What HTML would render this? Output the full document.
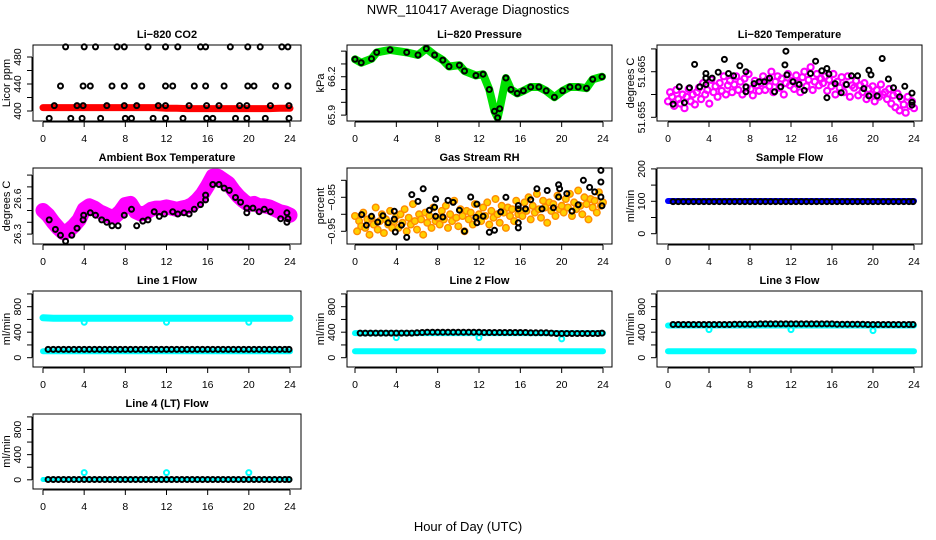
<!DOCTYPE html>
<html><head><meta charset="utf-8"><title>NWR_110417 Average Diagnostics</title>
<style>
html,body{margin:0;padding:0;background:#fff;}
svg{display:block;font-family:"Liberation Sans",Arial,sans-serif;}
</style></head>
<body>
<svg id="chart" width="936" height="540" viewBox="0 0 936 540" xmlns="http://www.w3.org/2000/svg">
<rect width="936" height="540" fill="#fff"/>
<text x="468" y="14" text-anchor="middle" font-size="13">NWR_110417  Average Diagnostics</text>
<text x="468" y="531" text-anchor="middle" font-size="13">Hour of Day (UTC)</text>
</svg>
<script>
// ---------- data ----------
const xTickLabels = [0,4,8,12,16,20,24];

// CO2
const co2RedHours = [0,1,2,3,4,5,6,7,8,9,10,11,12,13,14,15,16,17,18,19,20,21,22,23,24];
const co2RedVals = [405,405,405,405,405,405,405,405,405,405,405,405,404,404,403.5,403.5,403.5,403.5,403.5,403.5,403.5,403.5,403.5,404,404];
const co2BlackHours = [2.2,4.0,5.1,7.2,7.9,10.2,11.9,13.1,15.3,15.8,18.2,19.9,21.1,23.2,23.8,
 1.7,3.9,4.6,6.7,7.9,9.6,11.9,12.6,14.7,15.8,17.6,19.9,20.5,22.6,23.8,
 1.1,3.3,3.9,6.2,7.9,9.1,11.2,11.9,14.2,15.9,17.1,19.1,19.8,22.1,23.9,
 0.6,2.7,3.8,5.6,8.0,8.6,10.7,11.9,13.6,15.9,16.5,18.7,19.8,21.6,23.9];
const co2BlackVals = [495,495,495,495,495,495,495,495,495,495,495,495,495,495,495,
 437,437,437,437,437,437,437,437,437,437,437,437,437,437,437,
 408,408,408,408,408,408,408,408,408,408,408,408,408,408,408,
 389,389,389,389,389,389,389,389,389,389,389,389,389,389,389];

// Pressure
const presHours = [0,0.6,1.6,2.1,3.4,5.0,6.1,6.9,7.7,8.5,9.1,10.1,10.6,11.7,12.4,13.0,13.5,13.8,14.0,14.6,15.1,15.7,16.3,17.0,17.8,18.5,19.3,20.1,20.8,21.6,22.4,23.0,23.9];
const presVals = [66.336,66.31,66.34,66.39,66.41,66.39,66.37,66.42,66.37,66.33,66.28,66.29,66.245,66.21,66.22,66.10,65.93,65.88,65.95,66.19,66.10,66.07,66.09,66.12,66.12,66.09,66.04,66.09,66.12,66.12,66.11,66.18,66.20];

// Li-820 temperature
const tempMagenta = [51.6585,51.6605,51.6595,51.6575,51.6610,51.6590,51.6580,51.6600,51.6570,51.6595,51.6612,51.6585,51.6600,51.6578,51.6605,
51.6615,51.6590,51.6625,51.6600,51.6610,51.6580,51.6632,51.6605,51.6618,51.6595,51.6625,51.6608,51.6640,51.6600,51.6620,
51.6630,51.6605,51.6622,51.6640,51.6610,51.6628,51.6600,51.6635,51.6615,51.6645,51.6612,51.6598,51.6630,51.6620,51.6608,
51.6625,51.6640,51.6610,51.6632,51.6618,51.6650,51.6605,51.6628,51.6640,51.6615,51.6635,51.6600,51.6625,51.6645,51.6620,
51.6630,51.6612,51.6642,51.6625,51.6605,51.6638,51.6650,51.6618,51.6632,51.6660,51.6610,51.6628,51.6645,51.6620,51.6635,
51.6625,51.6640,51.6608,51.6632,51.6618,51.6645,51.6600,51.6628,51.6615,51.6638,51.6605,51.6622,51.6640,51.6595,51.6620,
51.6615,51.6630,51.6598,51.6620,51.6605,51.6625,51.6590,51.6612,51.6600,51.6618,51.6585,51.6610,51.6595,51.6622,51.6600,
51.6605,51.6590,51.6612,51.6580,51.6598,51.6572,51.6602,51.6565,51.6590,51.6578,51.6560,51.6595,51.6575,51.6585,51.6570];
const tempBlackHours = [0.5,1.1,1.6,2.1,3.1,2.6,3.7,3.7,3.7,4.3,4.9,5.5,5.9,6.4,7.0,7.6,7.6,7.6,8.4,8.9,9.4,9.9,10.4,11.0,11.4,11.6,11.5,12.2,12.8,13.3,13.9,14.4,15.0,15.5,15.5,15.7,16.3,16.9,17.4,17.9,18.5,19.1,19.6,19.6,19.8,20.4,20.9,21.5,22.0,22.6,23.1,23.8,23.8,23.8];
const tempBlackVals = [51.6579,51.6617,51.6582,51.6615,51.6617,51.6666,51.6646,51.6636,51.6622,51.6636,51.6649,51.6677,51.6646,51.6641,51.6663,51.6617,51.6650,51.6606,51.6624,51.6628,51.6628,51.6636,51.6606,51.6617,51.6665,51.6643,51.6695,51.6628,51.6622,51.6609,51.6646,51.6673,51.6652,51.6657,51.6593,51.6645,51.6624,51.6604,51.6622,51.6641,51.6641,51.6613,51.6597,51.6653,51.6643,51.6597,51.6679,51.6634,51.6615,51.6595,51.6618,51.6603,51.6583,51.6577];

// Ambient box temperature
const ambMagentaHours = [0,0.5,1,1.5,2,2.5,3,3.5,4,4.5,5,5.5,6,6.5,7,7.5,8,8.5,9,9.5,10,10.5,11,11.5,12,12.5,13,13.5,14,14.5,15,15.5,16,16.5,17,17.5,18,18.5,19,19.5,20,20.5,21,21.5,22,22.5,23,23.5,24];
const ambMagentaVals = [26.50,26.46,26.40,26.35,26.31,26.33,26.37,26.42,26.51,26.54,26.52,26.49,26.47,26.45,26.45,26.49,26.55,26.56,26.49,26.47,26.48,26.51,26.52,26.52,26.53,26.52,26.51,26.52,26.53,26.55,26.59,26.64,26.71,26.79,26.79,26.76,26.73,26.67,26.62,26.58,26.55,26.56,26.54,26.54,26.53,26.51,26.49,26.48,26.46];
const ambBlackHours = [0.6,1.2,1.7,2.2,2.8,3.3,3.9,3.95,4.6,5.1,5.7,6.2,6.7,7.3,7.9,8.6,9.1,9.7,10.2,10.8,11.3,11.8,12.6,13.1,13.7,14.2,14.7,15.3,15.8,15.8,16.5,17.1,17.6,18.1,18.7,19.2,19.8,19.8,20.4,21.0,21.5,22.1,23.1,23.7,23.8,23.7];
const ambBlackVals = [26.42,26.34,26.29,26.24,26.29,26.35,26.42,26.46,26.48,26.46,26.42,26.40,26.37,26.37,26.46,26.51,26.37,26.41,26.42,26.49,26.45,26.47,26.49,26.47,26.48,26.47,26.51,26.55,26.63,26.59,26.72,26.72,26.69,26.67,26.61,26.57,26.52,26.48,26.52,26.49,26.51,26.49,26.43,26.48,26.43,26.40];

// Gas stream RH
const rhOrange = [-0.905,-0.95,-0.92,-0.935,-0.895,-0.94,-0.915,-0.96,-0.91,-0.93,-0.88,-0.945,-0.92,-0.9,-0.955,-0.915,-0.93,-0.89,-0.94,-0.92,-0.905,
-0.94,-0.9,-0.925,-0.885,-0.95,-0.91,-0.93,-0.87,-0.92,-0.945,-0.9,-0.915,-0.96,-0.895,-0.925,-0.905,-0.94,-0.88,-0.92,-0.91,
-0.93,-0.89,-0.915,-0.875,-0.94,-0.9,-0.92,-0.86,-0.91,-0.935,-0.885,-0.905,-0.95,-0.89,-0.915,-0.895,-0.93,-0.87,-0.91,-0.9,
-0.92,-0.88,-0.905,-0.865,-0.93,-0.89,-0.91,-0.855,-0.9,-0.925,-0.875,-0.895,-0.94,-0.88,-0.905,-0.885,-0.92,-0.86,-0.9,-0.89,
-0.905,-0.865,-0.89,-0.85,-0.915,-0.875,-0.895,-0.84,-0.885,-0.91,-0.86,-0.88,-0.925,-0.865,-0.89,-0.87,-0.905,-0.845,-0.885,-0.875,
-0.895,-0.855,-0.88,-0.84,-0.905,-0.865,-0.885,-0.83,-0.875,-0.9,-0.85,-0.87,-0.915,-0.855,-0.88,-0.86,-0.895,-0.835,-0.875,-0.865];
const rhBlackHours = [0.65,1.1,1.6,2.2,2.7,3.2,3.8,3.8,3.9,4.5,5.0,5.5,6.1,6.6,7.2,7.7,7.8,7.8,8.5,9.0,9.5,10.1,10.6,11.2,11.7,11.8,11.8,12.4,13.0,13.5,14.1,14.6,15.8,15.8,15.8,15.8,16.5,17.0,17.6,18.1,18.6,19.2,19.7,19.8,19.7,20.5,21.0,21.6,22.1,22.7,23.2,23.8,23.8,23.8,23.9];
const rhBlackVals = [-0.901,-0.932,-0.906,-0.923,-0.904,-0.925,-0.891,-0.914,-0.952,-0.932,-0.968,-0.842,-0.862,-0.825,-0.888,-0.879,-0.855,-0.906,-0.908,-0.859,-0.865,-0.888,-0.950,-0.849,-0.909,-0.870,-0.925,-0.906,-0.953,-0.947,-0.893,-0.850,-0.874,-0.884,-0.925,-0.940,-0.884,-0.857,-0.825,-0.884,-0.830,-0.881,-0.813,-0.825,-0.849,-0.839,-0.891,-0.872,-0.800,-0.821,-0.834,-0.771,-0.805,-0.849,-0.875];

// Flows
const bandHours = [0,1,2,3,4,5,6,7,8,9,10,11,12,13,14,15,16,17,18,19,20,21,22,23,24];
const sampleBlue = [101,101,101,101,101,101,101,101,101,101,101,101,101,101,101,101,101,101,101,101,101,101,101,101,101];
const dotHours = [0.5,1,1.5,2,2.5,3,3.5,4,4.5,5,5.5,6,6.5,7,7.5,8,8.5,9,9.5,10,10.5,11,11.5,12,12.5,13,13.5,14,14.5,15,15.5,16,16.5,17,17.5,18,18.5,19,19.5,20,20.5,21,21.5,22,22.5,23,23.5,23.9];
const sampleBlack = [99,99,99,99,99,99,99,99,99,99,99,99,99,99,99,99,99,99,99,99,99,99,99,99,99,99,99,99,99,99,99,99,99,99,99,99,99,99,99,99,99,99,99,99,99,99,99,99];
const line1CyanHi = [625,620,618,618,618,618,618,618,618,618,618,618,618,618,618,618,618,618,618,618,618,618,618,618,618];
const line1CyanLo = [100,100,100,100,100,100,100,100,100,100,100,100,100,100,100,100,100,100,100,100,100,100,100,100,100];
const line1Black = [130,130,130,130,130,130,130,130,130,130,130,130,130,130,130,130,130,130,130,130,130,130,130,130,130,130,130,130,130,130,130,130,130,130,130,130,130,130,130,130,130,130,130,130,130,130,130,130];
const dipHours = [4,12,20];
const line1Dips = [555,555,555];
const line2CyanHi = [385,385,385,385,385,385,385,385,385,385,385,385,385,385,385,385,385,385,385,385,385,385,385,385,385];
const line2CyanLo = [100,100,100,100,100,100,100,100,100,100,100,100,100,100,100,100,100,100,100,100,100,100,100,100,100];
const line2Black = [385,385,385,385,385,385,385,385,385,385,385,390,395,400,400,400,400,400,400,400,400,400,400,400,395,395,395,395,395,395,395,395,395,390,390,390,390,385,380,380,380,380,380,380,380,380,380,385];
const line2Dips = [315,315,295];
const line3CyanHi = [505,505,505,505,505,505,505,505,505,505,505,505,505,505,505,505,505,505,505,505,505,505,505,505,505];
const line3CyanLo = [100,100,100,100,100,100,100,100,100,100,100,100,100,100,100,100,100,100,100,100,100,100,100,100,100];
const line3Black = [520,520,520,520,520,520,520,520,520,520,520,520,525,525,525,525,525,530,530,530,530,530,530,530,530,530,530,530,530,530,530,530,525,525,525,525,525,525,520,520,520,520,520,520,520,520,520,520];
const line3Dips = [440,440,425];
const line4CyanLo = [5,5,5,5,5,5,5,5,5,5,5,5,5,5,5,5,5,5,5,5,5,5,5,5,5];
const line4Black = [5,5,5,5,5,5,5,5,5,5,5,5,5,5,5,5,5,5,5,5,5,5,5,5,5,5,5,5,5,5,5,5,5,5,5,5,5,5,5,5,5,5,5,5,5,5,5,5];
const line4Dips = [115,115,115];

// ---------- drawing ----------
const NS = 'http://www.w3.org/2000/svg';
const svg = document.getElementById('chart');
const COLL = [33,347,657], COLR = [301,612,922], X0 = [43,355,668], X24 = [290,603,914];
const ROWT = [45,168,291,414], ROWB = [121,244,367,489];

function mk(tag, attrs, parent) {
  const e = document.createElementNS(NS, tag);
  for (const k in attrs) e.setAttribute(k, attrs[k]);
  (parent || svg).appendChild(e);
  return e;
}

function panel(p) {
  const g = mk('g', {});
  
  
  const L = COLL[p.col], R = COLR[p.col], T = ROWT[p.row], B = ROWB[p.row];
  const sx = h => X0[p.col] + h * (X24[p.col] - X0[p.col]) / 24;
  const sy = v => B - (v - p.ymin) / (p.ymax - p.ymin) * (B - T);
  const title = mk('text', {x: (L + R) / 2, y: T - 7, 'text-anchor': 'middle', 'font-size': 11, 'font-weight': 'bold'}, g);
  title.textContent = p.title;
  
  
  const layer = mk('g', {}, g);
  
  
  p.series.forEach(s => {
    const hours = s.hours || s.vals.map((_, i) => i * 24 / (s.vals.length - 1));
    if (s.type === 'band') {
      const pts = s.vals.map((v, i) => sx(hours[i]).toFixed(1) + ',' + sy(v).toFixed(1)).join(' ');
      const pl = mk('polyline', {points: pts, fill: 'none', stroke: s.color, 'stroke-width': s.w, 'stroke-linejoin': 'round', 'stroke-linecap': 'round'}, layer);
      
      
    } else {
      s.vals.forEach((v, i) => {
        const c = mk('circle', {cx: sx(hours[i]).toFixed(1), cy: sy(v).toFixed(1), r: s.r || 2.5, fill: s.fill || 'none', stroke: s.color, 'stroke-width': s.sw || 2}, layer);
        
        
      });
    }
  });
  const box = mk('rect', {x: L, y: T, width: R - L, height: B - T, fill: 'none', stroke: '#000', 'stroke-width': 1}, g);
  
  
  const xa = mk('g', {}, g);
  
  
  mk('line', {x1: sx(0), x2: sx(24), y1: B + 1, y2: B + 1, stroke: '#000'}, xa);
  xTickLabels.forEach(t => {
    mk('line', {x1: sx(t), x2: sx(t), y1: B + 1, y2: B + 6, stroke: '#000'}, xa);
    const tx = mk('text', {x: sx(t), y: B + 21, 'text-anchor': 'middle', 'font-size': 10.5}, xa);
    tx.textContent = t;
    
    
  });
  const ya = mk('g', {}, g);
  
  
  mk('line', {x1: L - 1, x2: L - 1, y1: sy(p.yticks[0]), y2: sy(p.yticks[p.yticks.length - 1]), stroke: '#000'}, ya);
  p.yticks.forEach(t => mk('line', {x1: L - 6, x2: L - 1, y1: sy(t), y2: sy(t), stroke: '#000'}, ya));
  p.ylabels.forEach(t => {
    const y = sy(t);
    const tx = mk('text', {x: L - 15, y: y, 'text-anchor': 'middle', 'dominant-baseline': 'central', 'font-size': 10.5, transform: 'rotate(-90 ' + (L - 15) + ' ' + y + ')'}, ya);
    tx.textContent = String(t).replace('-', '\u2212');
    
    
  });
  const cy = (T + B) / 2;
  const yl = mk('text', {x: L - 26, y: cy, 'text-anchor': 'middle', 'dominant-baseline': 'central', 'font-size': 11, transform: 'rotate(-90 ' + (L - 26) + ' ' + cy + ')'}, g);
  yl.textContent = p.ylab;
  
  
}

const flowTicks = [0,200,400,600,800,1000], flowLabels = [0,400,800];
const CY = '#00ffff';

panel({name:'co2', col:0, row:0, title:'Li\u2212820 CO2', ylab:'Licor ppm', ymin:385.2, ymax:497.8,
  yticks:[400,420,440,460,480], ylabels:[400,440,480],
  series:[{type:'band', name:'co2-red-series', hours:co2RedHours, vals:co2RedVals, color:'#ff0000', w:7},
          {type:'pts', name:'co2-black-point', hours:co2BlackHours, vals:co2BlackVals, color:'#000'}]});
panel({name:'pressure', col:1, row:0, title:'Li\u2212820 Pressure', ylab:'kPa', ymin:65.854, ymax:66.448,
  yticks:[65.9,66.0,66.1,66.2,66.3,66.4], ylabels:[65.9,66.2],
  series:[{type:'band', name:'pressure-green-series', hours:presHours, vals:presVals, color:'#00e000', w:8},
          {type:'pts', name:'pressure-black-point', hours:presHours, vals:presVals, color:'#000'}]});
panel({name:'li820-temp', col:2, row:0, title:'Li\u2212820 Temperature', ylab:'degrees C', ymin:51.65419, ymax:51.67086,
  yticks:[51.655,51.66,51.665,51.67], ylabels:[51.655,51.665],
  series:[{type:'pts', name:'temp-magenta-point', vals:tempMagenta, color:'#ff00ff', r:3, sw:2.2},
          {type:'pts', name:'temp-black-point', hours:tempBlackHours, vals:tempBlackVals, color:'#000'}]});
panel({name:'ambient-temp', col:0, row:1, title:'Ambient Box Temperature', ylab:'degrees C', ymin:26.216, ymax:26.860,
  yticks:[26.3,26.4,26.5,26.6,26.7,26.8], ylabels:[26.3,26.6],
  series:[{type:'band', name:'ambient-magenta-series', hours:ambMagentaHours, vals:ambMagentaVals, color:'#ff00ff', w:15},
          {type:'pts', name:'ambient-black-point', hours:ambBlackHours, vals:ambBlackVals, color:'#000'}]});
panel({name:'gas-rh', col:1, row:1, title:'Gas Stream RH', ylab:'percent', ymin:-0.9874, ymax:-0.7638,
  yticks:[-0.95,-0.9,-0.85,-0.8], ylabels:[-0.95,-0.85],
  series:[{type:'pts', name:'rh-orange-point', vals:rhOrange, color:'#ff8c00', fill:'#ffd000', sw:1.4, r:3.3},
          {type:'pts', name:'rh-black-point', hours:rhBlackHours, vals:rhBlackVals, color:'#000'}]});
panel({name:'sample-flow', col:2, row:1, title:'Sample Flow', ylab:'ml/min', ymin:-31.8, ymax:202.8,
  yticks:[0,50,100,150,200], ylabels:[0,100,200],
  series:[{type:'band', name:'sample-blue-series', hours:bandHours, vals:sampleBlue, color:'#0000ff', w:6},
          {type:'pts', name:'sample-black-point', hours:dotHours, vals:sampleBlack, color:'#000'}]});
panel({name:'line1-flow', col:0, row:2, title:'Line 1 Flow', ylab:'ml/min', ymin:-146, ymax:1046,
  yticks:flowTicks, ylabels:flowLabels,
  series:[{type:'band', name:'line1-cyan-high', hours:bandHours, vals:line1CyanHi, color:CY, w:7},
          {type:'band', name:'line1-cyan-low', hours:bandHours, vals:line1CyanLo, color:CY, w:6},
          {type:'pts', name:'line1-cyan-dip', hours:dipHours, vals:line1Dips, color:CY},
          {type:'pts', name:'line1-black-point', hours:dotHours, vals:line1Black, color:'#000'}]});
panel({name:'line2-flow', col:1, row:2, title:'Line 2 Flow', ylab:'ml/min', ymin:-146, ymax:1046,
  yticks:flowTicks, ylabels:flowLabels,
  series:[{type:'band', name:'line2-cyan-high', hours:bandHours, vals:line2CyanHi, color:CY, w:6},
          {type:'band', name:'line2-cyan-low', hours:bandHours, vals:line2CyanLo, color:CY, w:6},
          {type:'pts', name:'line2-cyan-dip', hours:dipHours, vals:line2Dips, color:CY},
          {type:'pts', name:'line2-black-point', hours:dotHours, vals:line2Black, color:'#000'}]});
panel({name:'line3-flow', col:2, row:2, title:'Line 3 Flow', ylab:'ml/min', ymin:-146, ymax:1046,
  yticks:flowTicks, ylabels:flowLabels,
  series:[{type:'band', name:'line3-cyan-high', hours:bandHours, vals:line3CyanHi, color:CY, w:6},
          {type:'band', name:'line3-cyan-low', hours:bandHours, vals:line3CyanLo, color:CY, w:6},
          {type:'pts', name:'line3-cyan-dip', hours:dipHours, vals:line3Dips, color:CY},
          {type:'pts', name:'line3-black-point', hours:dotHours, vals:line3Black, color:'#000'}]});
panel({name:'line4-flow', col:0, row:3, title:'Line 4 (LT) Flow', ylab:'ml/min', ymin:-146, ymax:1046,
  yticks:flowTicks, ylabels:flowLabels,
  series:[{type:'band', name:'line4-cyan-low', hours:bandHours, vals:line4CyanLo, color:CY, w:5},
          {type:'pts', name:'line4-cyan-dip', hours:dipHours, vals:line4Dips, color:CY},
          {type:'pts', name:'line4-black-point', hours:dotHours, vals:line4Black, color:'#000'}]});
</script>
</body></html>
